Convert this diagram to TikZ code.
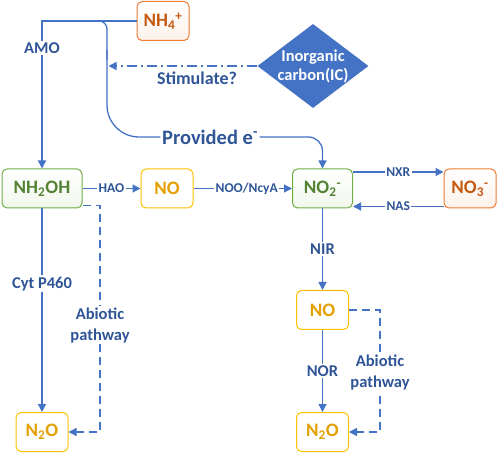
\documentclass[tikz,border=0pt]{standalone}
\usepackage{fontspec}
\setmainfont{Carlito}
\usetikzlibrary{arrows.meta,shapes.geometric,calc}
\definecolor{lineblue}{HTML}{4472C4}
\definecolor{txtblue}{HTML}{2F5597}
\definecolor{orgB}{HTML}{ED7D31}
\definecolor{orgT}{HTML}{C55A11}
\definecolor{grnB}{HTML}{70AD47}
\definecolor{grnT}{HTML}{548235}
\definecolor{ylwB}{HTML}{FFC000}
\definecolor{ylwT}{HTML}{E3A000}
\tikzset{
 box/.style={draw, rounded corners=5pt, line width=1pt, minimum height=39pt, inner sep=2pt, font=\bfseries\fontsize{19}{22}\selectfont},
 orgbox/.style={box, draw=orgB, text=orgT, top color=white, bottom color=orgB!10},
 grnbox/.style={box, draw=grnB, text=grnT, top color=white, bottom color=grnB!10},
 ylwbox/.style={box, draw=ylwB, text=ylwT, fill=white},
 conn/.style={draw=lineblue, line width=1.3pt},
 arr/.style={conn, -{Triangle[length=8pt,width=8pt]}},
 lab/.style={text=txtblue, font=\bfseries\fontsize{16.5}{21}\selectfont, fill=white, inner sep=1.5pt, align=center},
 slab/.style={lab, font=\bfseries\fontsize{13.5}{16}\selectfont},
 dsh/.style={dash pattern=on 8pt off 5pt},
}
\begin{document}
\begin{tikzpicture}[x=1pt,y=-1pt]
\useasboundingbox (0,0) rectangle (498,454);
% boxes
\node[orgbox, minimum width=52pt] (nh4) at (163,21) {NH\textsubscript{4}\textsuperscript{+}};
\node[grnbox, minimum width=80pt] (nh2oh) at (42,188.5) {NH\textsubscript{2}OH};
\node[ylwbox, minimum width=52pt] (no1) at (167,188.5) {NO};
\node[grnbox, minimum width=60pt] (no2) at (322.5,188.5) {NO\textsubscript{2}\textsuperscript{-}};
\node[orgbox, minimum width=52pt] (no3) at (470,188.5) {NO\textsubscript{3}\textsuperscript{-}};
\node[ylwbox, minimum width=52pt] (no4) at (322.5,310) {NO};
\node[ylwbox, minimum width=52pt] (n2or) at (322.5,432) {N\textsubscript{2}O};
\node[ylwbox, minimum width=52pt] (n2ol) at (42,432) {N\textsubscript{2}O};
% diamond
\node[diamond, fill=lineblue, minimum width=111pt, minimum height=84pt, inner sep=0pt] (ic) at (313,66) {};
\node[text=white, font=\bfseries\fontsize{16.5}{19.5}\selectfont, align=center] (ictext) at (313,66.5) {Inorganic\\carbon(IC)};
% AMO
\draw[arr] (nh4.west) -| (nh2oh.north);
\node[lab] (amo) at (42,48) {AMO};
% provided electrons
\node[text=txtblue, font=\bfseries\fontsize{20.5}{24}\selectfont, inner sep=1.5pt] (prov) at (210,137) {Provided e\textsuperscript{-}};
\coordinate (br) at (95,21);
\draw[conn, rounded corners=8pt] (br) -| (107,60);
\draw[conn, rounded corners=32pt] (107,50) |- (prov.west);
\draw[arr, rounded corners=14pt] (prov.east) -| (no2.north);
% stimulate
\coordinate (stimend) at (108.5,66);
\draw[arr, dash pattern=on 10pt off 4pt on 2pt off 4pt] (ic.west) -- (stimend);
\node[text=txtblue, font=\bfseries\fontsize{18}{21}\selectfont] (stim) at (197,78) {Stimulate?};
% horizontal chain
\draw[arr] (nh2oh.east) -- node[slab]{HAO} (no1.west);
\draw[arr] (no1.east) -- node[slab, pos=0.54]{NOO/NcyA} (no2.west);
\draw[arr] ([yshift=16.5pt]no2.east) -- node[slab]{NXR} ([yshift=16.5pt]no3.west);
\draw[arr] ([yshift=-18pt]no3.west) -- node[slab]{NAS} ([yshift=-18pt]no2.east);
% vertical chains
\draw[arr] (no2.south) -- node[lab]{NIR} (no4.north);
\draw[arr] (no4.south) -- node[lab]{NOR} (n2or.north);
\draw[arr] (nh2oh.south) -- node[lab, pos=0.37]{Cyt P460} (n2ol.north);
% abiotic
\draw[arr, dsh] ([yshift=-17pt]nh2oh.east) -| (100,432) -- (n2ol.east);
\node[lab] (ab1) at (100,325) {Abiotic\\pathway};
\draw[arr, dsh] (no4.east) -| (380,432) -- (n2or.east);
\node[lab] (ab2) at (380,372) {Abiotic\\pathway};
\end{tikzpicture}
\end{document}
